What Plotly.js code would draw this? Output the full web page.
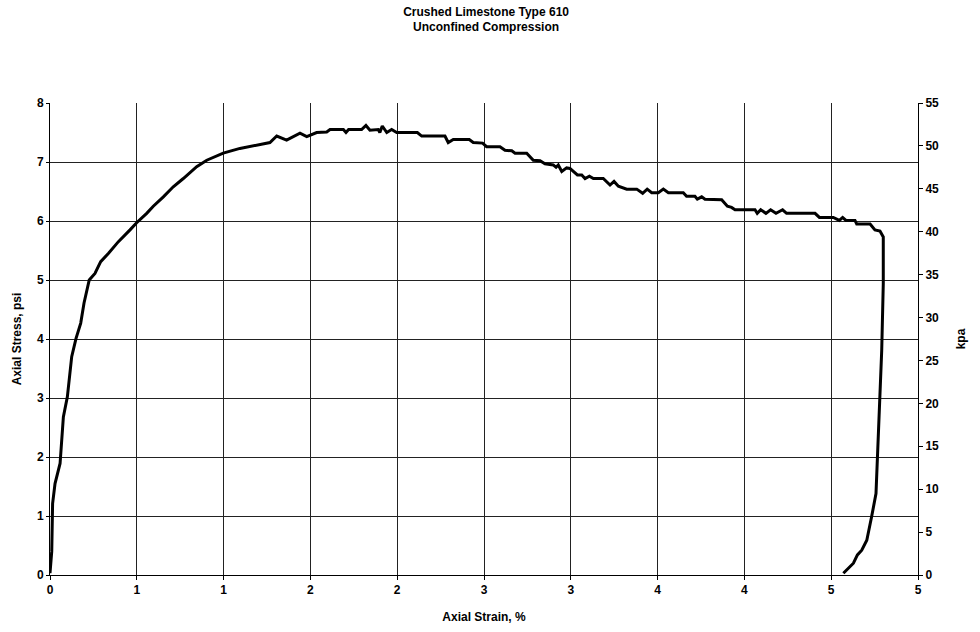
<!DOCTYPE html>
<html>
<head>
<meta charset="utf-8">
<script src="https://cdn.plot.ly/plotly-3.0.1.min.js"></script>
<style>html,body{margin:0;padding:0;background:#fff;}#chart{width:980px;height:632px;}</style>
</head>
<body>
<div id="chart"></div>
<script>
// Axial strain (%) and axial stress (psi)
const strain = [0.00,0.01,0.015,0.029,0.058,0.077,0.10,0.125,0.15,0.177,0.196,0.226,0.259,0.292,0.336,0.394,0.461,0.499,0.557,0.595,0.653,0.71,0.768,0.845,0.903,0.998,1.094,1.19,1.267,1.306,1.363,1.44,1.479,1.536,1.594,1.613,1.69,1.705,1.72,1.795,1.82,1.843,1.891,1.90,1.914,1.94,1.968,1.997,2.116,2.141,2.275,2.294,2.323,2.415,2.438,2.492,2.515,2.592,2.621,2.66,2.679,2.746,2.784,2.823,2.851,2.899,2.915,2.928,2.948,2.976,2.995,3.038,3.063,3.082,3.107,3.13,3.187,3.226,3.249,3.274,3.322,3.38,3.414,3.44,3.466,3.504,3.533,3.562,3.648,3.667,3.715,3.729,3.754,3.773,3.869,3.902,3.926,3.946,4.061,4.074,4.094,4.124,4.151,4.182,4.22,4.243,4.407,4.432,4.512,4.547,4.566,4.585,4.637,4.647,4.724,4.752,4.781,4.80,4.80,4.791,4.781,4.768,4.758,4.733,4.705,4.676,4.651,4.628,4.60,4.57];
const stressPsi = [0.03,0.4,1.21,1.55,1.89,2.68,3.02,3.70,4.01,4.27,4.61,5.0,5.11,5.31,5.45,5.65,5.85,5.97,6.13,6.25,6.41,6.58,6.72,6.92,7.03,7.15,7.23,7.29,7.33,7.44,7.37,7.49,7.43,7.50,7.51,7.55,7.55,7.50,7.55,7.55,7.62,7.54,7.55,7.50,7.61,7.50,7.55,7.50,7.50,7.44,7.44,7.33,7.38,7.38,7.33,7.32,7.26,7.26,7.20,7.19,7.15,7.15,7.03,7.02,6.97,6.95,6.91,6.95,6.84,6.90,6.89,6.78,6.78,6.72,6.76,6.72,6.72,6.61,6.67,6.59,6.54,6.54,6.47,6.54,6.48,6.48,6.54,6.48,6.48,6.42,6.42,6.37,6.41,6.37,6.36,6.25,6.23,6.19,6.19,6.13,6.19,6.13,6.19,6.13,6.19,6.13,6.13,6.06,6.06,6.01,6.06,6.01,6.01,5.95,5.95,5.85,5.83,5.73,4.94,3.81,2.97,2.12,1.38,0.99,0.59,0.42,0.34,0.20,0.11,0.03];

const xTickVals = [0,0.5,1,1.5,2,2.5,3,3.5,4,4.5,5];
const xTickText = ["0","1","1","2","2","3","3","4","4","5","5"];
const psiTicks = [0,1,2,3,4,5,6,7,8];
const kpaTicks = [0,5,10,15,20,25,30,35,40,45,50,55];

const F = "Liberation Sans, Arial, sans-serif";
const tickFont = {family: F, size: 12, color: "#000"};
const bold = a => a.map(v => "<b>" + v + "</b>");

const traces = [
  {x: strain, y: stressPsi, type: "scatter", mode: "lines",
   line: {color: "#000", width: 3}, hoverinfo: "skip", showlegend: false},
  {x: [null], y: [null], type: "scatter", mode: "lines", yaxis: "y2",
   hoverinfo: "skip", showlegend: false}
];

const layout = {
  width: 980, height: 632,
  margin: {l: 50, r: 62, t: 103, b: 57},
  paper_bgcolor: "#fff", plot_bgcolor: "#fff",
  title: {text: "<b>Crushed Limestone Type 610</b><br><b>Unconfined Compression</b>",
          font: {family: F, size: 12, color: "#000"}, x: 0.496, xanchor: "center", y: 0.975, yanchor: "top"},
  xaxis: {range: [0, 5], tickvals: xTickVals, ticktext: bold(xTickText),
          showgrid: true, gridcolor: "#222", gridwidth: 1, zeroline: false,
          showline: true, linecolor: "#000", linewidth: 1,
          ticks: "outside", ticklen: 4, tickcolor: "#000", tickfont: tickFont,
          title: {text: "<b>Axial Strain, %</b>", font: {family: F, size: 12, color: "#000"}, standoff: 16}},
  yaxis: {range: [0, 8], tickvals: psiTicks, ticktext: bold(psiTicks), showgrid: true, gridcolor: "#222", gridwidth: 1,
          zeroline: false, showline: true, linecolor: "#000", linewidth: 1,
          ticks: "outside", ticklen: 3, tickcolor: "#000", tickfont: tickFont,
          title: {text: "<b>Axial Stress, psi</b>", font: {family: F, size: 12, color: "#000"}, standoff: 12}},
  yaxis2: {range: [0, 55], tickvals: kpaTicks, ticktext: bold(kpaTicks), overlaying: "y", side: "right",
           showgrid: false, zeroline: false, showline: true, linecolor: "#000", linewidth: 1,
           ticks: "outside", ticklen: 4, tickcolor: "#000", tickfont: tickFont,
           title: {text: "<b>kpa</b>", font: {family: F, size: 12, color: "#000"}, standoff: 18}}
};

Plotly.newPlot("chart", traces, layout, {displayModeBar: false, staticPlot: true});
</script>
</body>
</html>
